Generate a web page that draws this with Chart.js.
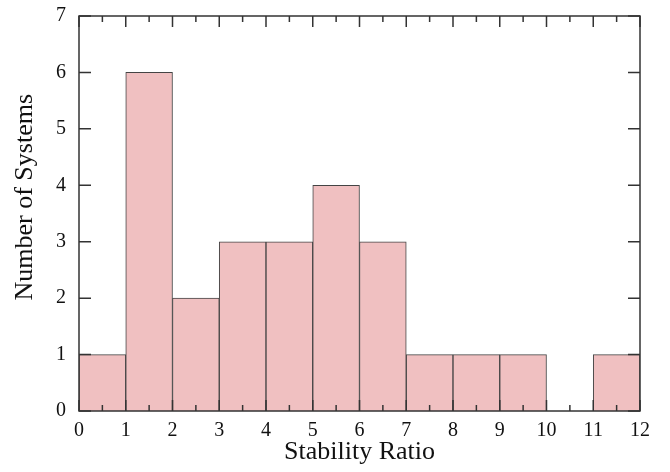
<!DOCTYPE html>
<html>
<head>
<meta charset="utf-8">
<script src="https://cdn.jsdelivr.net/npm/chart.js@4/dist/chart.umd.min.js"></script>
<style>
  html, body { margin: 0; padding: 0; background: #fff; }
  #wrap { width: 670px; height: 472px; }
</style>
</head>
<body>
<div id="wrap"><canvas id="grafico" width="670" height="472"></canvas></div>
<script>
// histogram bins (left edge .. right edge) and counts
const binCenters = [0.5, 1.5, 2.5, 3.5, 4.5, 5.5, 6.5, 7.5, 8.5, 9.5, 10.5, 11.5];
const counts = [1, 6, 2, 3, 3, 4, 3, 1, 1, 1, 0, 1];
const xTicks = [0, 1, 2, 3, 4, 5, 6, 7, 8, 9, 10, 11, 12];
const yTicks = [0, 1, 2, 3, 4, 5, 6, 7];

const fuente = "'Liberation Serif', 'DejaVu Serif', serif";

// marco con ticks hacia dentro en los cuatro lados
const marcoPlugin = {
  id: 'marco',
  afterDatasetsDraw(chart) {
    const { ctx, chartArea: a, scales } = chart;
    const sx = scales.x, sy = scales.y;
    ctx.save();
    ctx.strokeStyle = '#333';
    ctx.lineWidth = 1.5;
    ctx.strokeRect(a.left, a.top, a.right - a.left, a.bottom - a.top);
    ctx.beginPath();
    xTicks.forEach(v => {
      const px = sx.getPixelForValue(v);
      ctx.moveTo(px, a.bottom); ctx.lineTo(px, a.bottom - 11);
      ctx.moveTo(px, a.top); ctx.lineTo(px, a.top + 11);
      if (v < 12) {
        const pm = sx.getPixelForValue(v + 0.5);
        ctx.moveTo(pm, a.bottom); ctx.lineTo(pm, a.bottom - 6);
        ctx.moveTo(pm, a.top); ctx.lineTo(pm, a.top + 6);
      }
    });
    yTicks.forEach(v => {
      const py = sy.getPixelForValue(v);
      ctx.moveTo(a.left, py); ctx.lineTo(a.left + 12, py);
      ctx.moveTo(a.right, py); ctx.lineTo(a.right - 12, py);
    });
    ctx.stroke();
    ctx.restore();
  }
};

new Chart(document.getElementById('grafico'), {
  type: 'bar',
  data: {
    datasets: [{
      data: binCenters.map((c, i) => ({ x: c, y: counts[i] })),
      backgroundColor: '#f0c0c1',
      borderColor: '#444',
      borderWidth: 1,
      barPercentage: 1,
      categoryPercentage: 1
    }]
  },
  options: {
    responsive: false,
    animation: false,
    layout: { autoPadding: false, padding: { top: 16, right: 30, left: 0, bottom: 0 } },
    plugins: { legend: { display: false }, tooltip: { enabled: false } },
    scales: {
      x: {
        type: 'linear',
        min: 0, max: 12,
        offset: false,
        grid: { display: false, drawTicks: false },
        border: { display: false },
        afterFit(s) { s.height = 61; s.paddingLeft = 0; s.paddingRight = 0; },
        ticks: {
          stepSize: 1, autoSkip: false, maxRotation: 0, padding: 8,
          color: '#111', font: { family: fuente, size: 20 }
        },
        title: {
          display: true, text: 'Stability Ratio', color: '#111',
          font: { family: fuente, size: 26 }, padding: { top: 2 }
        }
      },
      y: {
        min: 0, max: 7,
        grid: { display: false, drawTicks: false },
        border: { display: false },
        afterFit(s) { s.width = 79; s.paddingTop = 0; s.paddingBottom = 0; },
        ticks: {
          stepSize: 1, padding: 13,
          color: '#111', font: { family: fuente, size: 20 }
        },
        title: {
          // espacios al inicio para subir el texto como en el original
          display: true, text: '     Number of Systems', color: '#111',
          font: { family: fuente, size: 26 }, padding: { bottom: 0, top: 10 }
        }
      }
    }
  },
  plugins: [marcoPlugin]
});
</script>
</body>
</html>
